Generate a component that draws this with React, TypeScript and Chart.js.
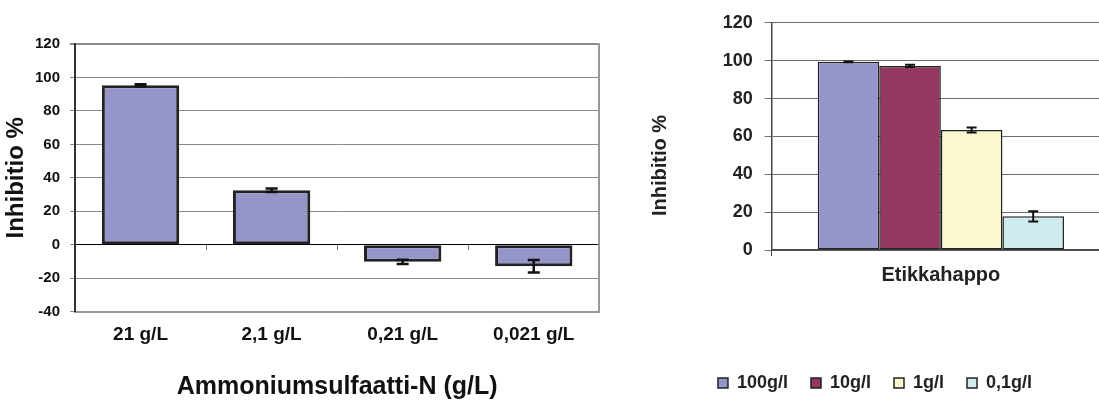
import React, { useEffect, useRef } from 'react';
import { Chart, registerables } from 'chart.js';

Chart.register(...registerables);
Chart.defaults.font.family = '"Liberation Sans", Arial, Helvetica, sans-serif';

// ---- Left chart data ----
const leftCategories = ['21 g/L', '2,1 g/L', '0,21 g/L', '0,021 g/L'];
const leftValues = [95.3, 32.6, -10.2, -12.8];
const leftErrors = [0.6, 1.0, 1.3, 3.7];
const leftYTitle = 'Inhibitio %';
const leftXTitle = 'Ammoniumsulfaatti-N (g/L)';

// ---- Right chart data ----
const rightCategories = ['Etikkahappo'];
const rightSeries = ['100g/l', '10g/l', '1g/l', '0,1g/l'];
const rightValues = [99.4, 97.2, 63.4, 17.8];
const rightErrors = [0.2, 0.6, 1.3, 2.7];
const rightColors = ['#9595C9', '#943862', '#FAF8CC', '#CFEBEE'];
const rightYTitle = 'Inhibitio %';

const FONT = '"Liberation Sans", Arial, Helvetica, sans-serif';

const errorBarPlugin = {
  id: 'errorBars',
  afterDatasetsDraw(chart: any, _args: any, opts: any) {
    const { ctx } = chart;
    const yScale = chart.scales.y;
    chart.data.datasets.forEach((ds: any, di: number) => {
      const errs = ds.errors;
      if (!errs) return;
      const meta = chart.getDatasetMeta(di);
      meta.data.forEach((bar: any, i: number) => {
        const v = ds.data[i];
        const e = errs[i];
        const x = bar.x;
        const y1 = yScale.getPixelForValue(v + e);
        const y2 = yScale.getPixelForValue(v - e);
        const cap = opts.cap || 5;
        ctx.save();
        ctx.strokeStyle = opts.color || '#111';
        ctx.lineWidth = opts.lineWidth || 2;
        ctx.beginPath();
        ctx.moveTo(x, y1);
        ctx.lineTo(x, y2);
        ctx.moveTo(x - cap, y1);
        ctx.lineTo(x + cap, y1);
        ctx.moveTo(x - cap, y2);
        ctx.lineTo(x + cap, y2);
        ctx.stroke();
        ctx.restore();
      });
    });
  },
};

const sideTitlePlugin = {
  id: 'sideTitle',
  afterDraw(chart: any, _args: any, opts: any) {
    if (!opts || !opts.text) return;
    const { ctx, chartArea } = chart;
    ctx.save();
    ctx.font = opts.font;
    ctx.fillStyle = opts.color;
    ctx.translate(opts.x, (chartArea.top + chartArea.bottom) / 2 + (opts.dy || 0));
    ctx.rotate(-Math.PI / 2);
    ctx.textAlign = 'center';
    ctx.textBaseline = 'middle';
    ctx.fillText(opts.text, 0, 0);
    ctx.restore();
  },
};

function LeftChart() {
  const ref = useRef<HTMLCanvasElement | null>(null);
  useEffect(() => {
    if (!ref.current) return;
    const chart = new Chart(ref.current, {
      type: 'bar',
      data: {
        labels: leftCategories,
        datasets: [
          {
            data: leftValues,
            errors: leftErrors,
            backgroundColor: '#9595C9',
            borderColor: '#222',
            borderWidth: 3,
            borderSkipped: false,
            barPercentage: 0.59,
            categoryPercentage: 1,
            xAxisID: 'x',
            yAxisID: 'y',
          } as any,
        ],
      },
      options: {
        animation: false,
        responsive: false,
        devicePixelRatio: 1,
        layout: { padding: { top: 44, right: 40.7, left: 0, bottom: 0 } },
        plugins: {
          legend: { display: false },
          tooltip: { enabled: false },
          errorBars: { color: '#111', lineWidth: 2.5, cap: 6 },
        } as any,
        scales: {
          x: {
            type: 'category',
            position: 'bottom',
            grid: { display: false },
            border: { display: true, color: '#999', width: 2 },
            ticks: { font: { size: 19, weight: 'bold' }, color: '#111', padding: 4 },
            title: {
              display: true,
              text: leftXTitle,
              font: { size: 25, weight: 'bold', lineHeight: 1 },
              color: '#111',
              padding: { top: 0, bottom: 0 },
            },
            afterFit(s: any) {
              s.height = 88.3;
            },
          },
          x0: {
            type: 'category',
            axis: 'x',
            position: { y: 0 },
            offset: true,
            grid: { offset: true, drawOnChartArea: false, drawTicks: true, tickLength: 5, color: '#777' },
            border: { display: true, color: '#000', width: 1 },
            ticks: { display: false },
          },
          y: {
            min: -40,
            max: 120,
            ticks: { stepSize: 20, font: { size: 15, weight: 'bold' }, color: '#111', padding: 10 },
            grid: {
              color: (c: any) => (c.tick && c.tick.value === 0 ? '#000' : '#8a8a8a'),
              lineWidth: (c: any) => (c.tick && c.tick.value === 120 ? 2 : 1),
              tickLength: 5,
              tickColor: '#888',
            },
            border: { display: true, color: '#333', width: 2 },
            title: {
              display: true,
              text: leftYTitle,
              font: { size: 24, weight: 'bold', lineHeight: 1 },
              color: '#111',
              padding: { top: 4, bottom: 0 },
            },
            afterFit(s: any) {
              s.width = 75;
            },
          },
          yR: {
            type: 'linear',
            position: 'right',
            display: true,
            ticks: { display: false },
            grid: { display: false, drawTicks: false },
            border: { display: true, color: '#999', width: 2 },
            afterFit(s: any) {
              s.width = 0;
            },
          },
        } as any,
      },
      plugins: [errorBarPlugin as any],
    });
    return () => chart.destroy();
  }, []);
  return (
    <canvas
      ref={ref}
      width={640}
      height={400}
      style={{ position: 'absolute', left: 0, top: 0, width: 640, height: 400 }}
    />
  );
}

function RightChart() {
  const ref = useRef<HTMLCanvasElement | null>(null);
  useEffect(() => {
    if (!ref.current) return;
    const chart = new Chart(ref.current, {
      type: 'bar',
      data: {
        labels: rightCategories,
        datasets: rightSeries.map((name, i) => ({
          label: name,
          data: [rightValues[i]],
          errors: [rightErrors[i]],
          backgroundColor: rightColors[i],
          borderColor: '#222',
          borderWidth: 1.5,
          borderSkipped: false,
          categoryPercentage: 0.728,
          barPercentage: 1,
        })) as any,
      },
      options: {
        animation: false,
        responsive: false,
        devicePixelRatio: 1,
        layout: { padding: { top: 20.7, right: 0, left: 0, bottom: 0 } },
        plugins: {
          legend: {
            position: 'bottom',
            labels: {
              boxWidth: 10,
              boxHeight: 10,
              padding: 23,
              font: { size: 18, weight: 'bold' },
              color: '#222',
            },
          },
          tooltip: { enabled: false },
          errorBars: { color: '#111', lineWidth: 2, cap: 5 },
          sideTitle: {
            text: rightYTitle,
            x: 20.7,
            dy: 29,
            font: 'bold 20px ' + FONT,
            color: '#222',
          },
        } as any,
        scales: {
          x: {
            grid: { offset: true, drawOnChartArea: false, drawTicks: true, tickLength: 6, color: '#444' },
            border: { display: true, color: '#444', width: 1.5 },
            ticks: { font: { size: 20, weight: 'bold' }, color: '#222', padding: 7 },
            afterFit(s: any) {
              s.height = 101;
            },
          },
          y: {
            min: 0,
            max: 120,
            ticks: { stepSize: 20, font: { size: 18, weight: 'bold' }, color: '#222', padding: 12 },
            grid: { color: '#6e6e6e', tickLength: 7 },
            border: { display: true, color: '#444', width: 1.5 },
            afterFit(s: any) {
              s.width = 131.7;
            },
          },
        } as any,
      },
      plugins: [errorBarPlugin as any, sideTitlePlugin as any],
    });
    return () => chart.destroy();
  }, []);
  return (
    <canvas
      ref={ref}
      width={470}
      height={402}
      style={{ position: 'absolute', left: 640, top: 0, width: 470, height: 402 }}
    />
  );
}

export default function App() {
  return (
    <div
      style={{
        position: 'absolute',
        left: 0,
        top: 0,
        width: 1099,
        height: 400,
        overflow: 'hidden',
        background: '#fff',
      }}
    >
      <LeftChart />
      <RightChart />
    </div>
  );
}
